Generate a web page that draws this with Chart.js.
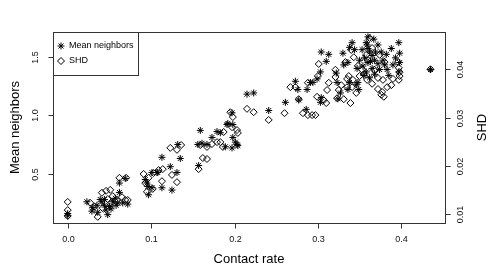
<!DOCTYPE html>
<html>
<head>
<meta charset="utf-8">
<script src="https://cdn.jsdelivr.net/npm/chart.js@4.4.1/dist/chart.umd.min.js"></script>
<style>
  html, body { margin: 0; padding: 0; background: #fff; }
  canvas { display: block; }
</style>
</head>
<body>
<canvas id="c" width="498" height="277"></canvas>
<script>
// ---- Data ----
const starContactRate = [
  0.000,0.000,0.023,0.029,0.035,0.039,0.041,0.044,0.048,0.050,0.054,0.057,0.060,0.062,0.062,0.069,0.066,0.072,0.046,0.036,0.052,0.044,0.030,0.058,
  0.095,0.096,0.097,0.101,0.107,0.101,0.113,0.113,0.123,0.125,0.132,0.131,0.135,0.108,0.093,
  0.157,0.156,0.167,0.197,0.204,0.159,0.179,0.183,0.198,0.173,0.201,0.203,0.189,0.161,0.192,0.191,0.198,0.197,0.215,0.223,0.241,0.261,
  0.273,0.276,0.277,0.286,0.287,0.291,0.294,0.299,0.303,0.304,0.313,0.310,0.304,0.303,0.322,0.323,0.327,0.324,0.330,0.336,0.338,0.341,0.344,0.347,0.338,0.346,0.336,0.349,0.348,
  0.360,0.367,0.358,0.360,0.362,0.365,0.356,0.368,0.360,0.372,0.354,0.365,0.374,0.358,0.368,0.378,0.382,0.383,0.388,0.390,0.397,0.398,0.398,0.435,0.353,0.372,0.362,0.350,0.376,0.385,
  0.359,0.363,0.369,0.355,0.380,0.393,0.397,0.331
];
const meanNeighbors = [
  0.14,0.16,0.26,0.18,0.23,0.28,0.26,0.23,0.15,0.22,0.26,0.29,0.25,0.42,0.34,0.46,0.25,0.24,0.19,0.17,0.20,0.28,0.21,0.23,
  0.42,0.39,0.32,0.51,0.51,0.38,0.64,0.38,0.56,0.36,0.75,0.51,0.63,0.51,0.45,
  0.57,0.75,0.75,0.72,0.74,0.87,0.86,0.85,0.81,0.81,0.77,0.75,0.73,0.76,0.93,0.92,0.92,1.02,1.18,1.19,1.04,1.11,
  1.29,1.22,1.13,1.05,1.22,1.28,1.28,1.31,1.37,1.54,1.52,1.46,1.15,1.11,1.36,1.28,1.19,1.14,1.53,1.45,1.58,1.62,1.56,1.40,1.28,1.26,1.22,1.22,1.28,
  1.67,1.65,1.62,1.57,1.54,1.51,1.49,1.47,1.45,1.44,1.42,1.40,1.39,1.37,1.35,1.47,1.52,1.39,1.57,1.43,1.62,1.53,1.45,1.39,1.56,1.60,1.32,1.47,1.54,1.34,
  1.60,1.46,1.54,1.34,1.43,1.49,1.37,1.43
];
const shdContactRate = [
  0.000,0.000,0.000,0.027,0.032,0.036,0.041,0.046,0.051,0.052,0.059,0.062,0.070,0.069,0.072,0.042,0.054,0.048,0.065,
  0.091,0.093,0.095,0.103,0.102,0.109,0.114,0.113,0.125,0.123,0.131,0.136,0.131,0.097,
  0.157,0.162,0.167,0.159,0.173,0.179,0.183,0.186,0.167,0.187,0.203,0.204,0.197,0.195,0.198,0.215,0.223,0.241,0.260,
  0.273,0.277,0.282,0.288,0.293,0.297,0.288,0.300,0.301,0.313,0.299,0.307,0.310,0.321,0.321,0.325,0.323,0.331,0.339,0.333,0.340,0.343,0.337,0.335,0.342,0.341,0.335,0.346,0.350,0.355,
  0.362,0.372,0.376,0.379,0.377,0.372,0.378,0.380,0.383,0.388,0.390,0.396,0.397,0.398,0.398,0.397,0.435,0.359,0.365,0.353,0.368,0.360,0.348,0.267,0.311,0.328,0.365,0.374,0.358
];
const shdValues = [
  0.0125,0.0108,0.0096,0.0123,0.0115,0.0094,0.0144,0.0148,0.0150,0.0123,0.0129,0.0175,0.0175,0.0129,0.0129,0.0112,0.0137,0.0131,0.0135,
  0.0183,0.0164,0.0146,0.0185,0.0152,0.0191,0.0193,0.0168,0.0181,0.0237,0.0233,0.0243,0.0166,0.0175,
  0.0193,0.0216,0.0214,0.0243,0.0245,0.0249,0.0249,0.0239,0.0239,0.0270,0.0274,0.0268,0.0280,0.0311,0.0301,0.0318,0.0311,0.0295,0.0309,
  0.0363,0.0338,0.0309,0.0305,0.0305,0.0305,0.0372,0.0386,0.0411,0.0372,0.0343,0.0336,0.0330,0.0399,0.0384,0.0357,0.0340,0.0338,0.0330,0.0415,0.0440,0.0425,0.0386,0.0380,0.0378,0.0363,0.0363,0.0351,0.0386,0.0390,
  0.0465,0.0359,0.0347,0.0343,0.0353,0.0382,0.0378,0.0415,0.0363,0.0367,0.0380,0.0415,0.0403,0.0394,0.0386,0.0378,0.0400,0.0378,0.0370,0.0399,0.0399,0.0419,0.0407,0.0363,0.0357,0.0367,0.0444,0.0430,0.0430
];

const xTicks = [0, 0.1, 0.2, 0.3, 0.4];
const xTickLabels = ['0.0', '0.1', '0.2', '0.3', '0.4'];
const leftTicks = [0.5, 1.0, 1.5];
const leftTickLabels = ['0.5', '1.0', '1.5'];
const rightTicks = [0.01, 0.02, 0.03, 0.04];
const rightTickLabels = ['0.01', '0.02', '0.03', '0.04'];

const xTitle = 'Contact rate';
const leftTitle = 'Mean neighbors';
const rightTitle = 'SHD';
const legendLabels = ['Mean neighbors', 'SHD'];

// ---- Build ----
const starPoints = starContactRate.map((x, i) => ({ x: x, y: meanNeighbors[i] }));
const shdPoints = shdContactRate.map((x, i) => ({ x: x, y: shdValues[i] }));

const FONT = '"Liberation Sans", Arial, Helvetica, sans-serif';

const rAxesPlugin = {
  id: 'rAxes',
  afterDatasetsDraw(chart) {
    const ctx = chart.ctx;
    const a = chart.chartArea;
    const sx = chart.scales.x, sy = chart.scales.y, sy2 = chart.scales.y2;
    const L = Math.round(a.left) + 0.5, R = Math.round(a.right) + 0.5;
    const T = Math.round(a.top) + 0.5, B = Math.round(a.bottom) + 0.5;
    ctx.save();
    ctx.strokeStyle = '#333';
    ctx.lineWidth = 1;
    // box
    ctx.strokeRect(L, T, R - L, B - T);
    ctx.fillStyle = '#111';
    // x axis ticks
    ctx.font = '9px ' + FONT;
    ctx.textAlign = 'center';
    ctx.textBaseline = 'middle';
    xTicks.forEach((v, i) => {
      const px = Math.round(sx.getPixelForValue(v)) + 0.5;
      ctx.beginPath(); ctx.moveTo(px, B); ctx.lineTo(px, B + 5); ctx.stroke();
      ctx.fillText(xTickLabels[i], px, 239.5);
    });
    // left ticks
    leftTicks.forEach((v, i) => {
      const py = Math.round(sy.getPixelForValue(v)) + 0.5;
      ctx.beginPath(); ctx.moveTo(L, py); ctx.lineTo(L - 5, py); ctx.stroke();
      ctx.save(); ctx.translate(36, py); ctx.rotate(-Math.PI / 2);
      ctx.fillText(leftTickLabels[i], 0, 0); ctx.restore();
    });
    // right ticks
    rightTicks.forEach((v, i) => {
      const py = Math.round(sy2.getPixelForValue(v)) + 0.5;
      ctx.beginPath(); ctx.moveTo(R, py); ctx.lineTo(R + 5, py); ctx.stroke();
      ctx.save(); ctx.translate(461, py); ctx.rotate(-Math.PI / 2);
      ctx.fillText(rightTickLabels[i], 0, 0); ctx.restore();
    });
    // titles
    ctx.fillStyle = '#000';
    ctx.font = '13px ' + FONT;
    ctx.fillText(xTitle, (a.left + a.right) / 2, 259);
    const midY = (a.top + a.bottom) / 2;
    ctx.save(); ctx.translate(15, midY); ctx.rotate(-Math.PI / 2);
    ctx.fillText(leftTitle, 0, 0); ctx.restore();
    ctx.save(); ctx.translate(482, midY); ctx.rotate(-Math.PI / 2);
    ctx.fillText(rightTitle, 0, 0); ctx.restore();

    // legend
    ctx.fillStyle = '#fff';
    ctx.fillRect(L, T, 138 - L, 75 - T);
    ctx.strokeStyle = '#333';
    ctx.strokeRect(L, T, 138.5 - L, 75.5 - T);
    ctx.strokeStyle = '#000';
    ctx.fillStyle = '#000';
    const r = 3.5;
    // star
    const sxp = 61, s1 = 46, s2 = 61;
    ctx.beginPath();
    ctx.moveTo(sxp - r, s1); ctx.lineTo(sxp + r, s1);
    ctx.moveTo(sxp, s1 - r); ctx.lineTo(sxp, s1 + r);
    const d = r * Math.SQRT1_2;
    ctx.moveTo(sxp - d, s1 - d); ctx.lineTo(sxp + d, s1 + d);
    ctx.moveTo(sxp - d, s1 + d); ctx.lineTo(sxp + d, s1 - d);
    ctx.stroke();
    // diamond
    ctx.beginPath();
    ctx.moveTo(sxp, s2 - r); ctx.lineTo(sxp + r, s2); ctx.lineTo(sxp, s2 + r); ctx.lineTo(sxp - r, s2); ctx.closePath();
    ctx.stroke();
    ctx.font = '9px ' + FONT;
    ctx.textAlign = 'left';
    ctx.fillText(legendLabels[0], 69, s1);
    ctx.fillText(legendLabels[1], 69, s2);
    ctx.restore();
  }
};

new Chart(document.getElementById('c'), {
  type: 'scatter',
  data: {
    datasets: [
      {
        label: legendLabels[0],
        data: starPoints,
        yAxisID: 'y',
        pointStyle: 'star',
        pointRadius: 3.5,
        borderColor: '#000',
        backgroundColor: 'rgba(0,0,0,0)',
        borderWidth: 1
      },
      {
        label: legendLabels[1],
        data: shdPoints,
        yAxisID: 'y2',
        pointStyle: 'rectRot',
        pointRadius: 3.5,
        borderColor: '#000',
        backgroundColor: 'rgba(0,0,0,0)',
        borderWidth: 1
      }
    ]
  },
  options: {
    responsive: false,
    animation: false,
    devicePixelRatio: 1,
    layout: { padding: { left: 53, right: 53, top: 32, bottom: 54 } },
    plugins: { legend: { display: false }, tooltip: { enabled: false } },
    scales: {
      x: { type: 'linear', display: false, min: -0.01763, max: 0.45239 },
      y: { type: 'linear', display: false, min: 0.0786, max: 1.7111 },
      y2: { type: 'linear', display: false, position: 'right', min: 0.00813, max: 0.04773 }
    }
  },
  plugins: [rAxesPlugin]
});
</script>
</body>
</html>
